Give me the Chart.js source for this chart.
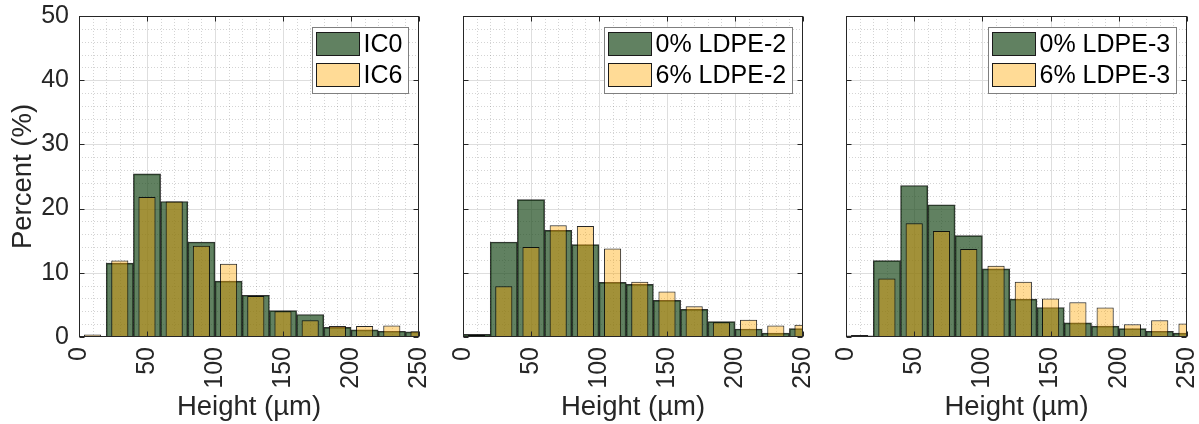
<!DOCTYPE html>
<html>
<head>
<meta charset="utf-8">
<script src="https://cdn.jsdelivr.net/npm/chart.js"></script>
<style>
  body { margin: 0; padding: 0; background: #fff; }
  #wrap { position: relative; width: 1199px; height: 424px; overflow: hidden; }
  canvas { position: absolute; top: 0; }
</style>
</head>
<body>
<div id="wrap">
  <canvas id="c1" width="430" height="424" style="left:0px"></canvas>
  <canvas id="c2" width="374" height="424" style="left:440px"></canvas>
  <canvas id="c3" width="375" height="424" style="left:823px"></canvas>
</div>
<script>
// bin centres (20 um bins), x axis cut at 250
const binCenters = [10, 30, 50, 70, 90, 110, 130, 150, 170, 190, 210, 230, 250];

const ic0 = [0, 11.5, 25.4, 21.1, 14.8, 8.7, 6.5, 4.1, 3.5, 1.5, 1.1, 0.9, 0.8];
const ic6 = [0.4, 11.9, 21.8, 21.1, 14.2, 11.4, 6.4, 4.0, 2.6, 1.7, 1.7, 1.8, 0.9];

const ldpe2_0 = [0.4, 14.8, 21.4, 16.6, 14.4, 8.5, 8.2, 5.7, 4.3, 2.4, 1.25, 0.6, 1.3];
const ldpe2_6 = [0.3, 7.9, 14.0, 17.4, 17.3, 13.8, 8.6, 7.1, 4.8, 2.3, 2.7, 1.8, 1.9];

const ldpe3_0 = [0.2, 11.9, 23.6, 20.6, 15.8, 10.6, 5.9, 4.6, 2.2, 1.7, 1.3, 0.9, 0.6];
const ldpe3_6 = [0.3, 9.1, 17.7, 16.5, 13.7, 11.1, 8.6, 6.0, 5.4, 4.6, 2.0, 2.6, 2.1];

const xTicks = [0, 50, 100, 150, 200, 250];
const yTicks = [0, 10, 20, 30, 40, 50];

const FONT = '"Liberation Sans", Arial, Helvetica, sans-serif';
const AXIS = '#262626';
const GREEN = 'rgba(30,75,30,0.7)';
const YELLOW = 'rgba(255,167,0,0.41)';

// grid, box, inner ticks and legend (MATLAB look)
const frame = {
    id: 'frame',
    beforeDatasetsDraw(chart) {
        const { ctx, chartArea: a, scales: { x, y } } = chart;
        const vline = px => { const p = Math.round(px) + 0.5; ctx.beginPath(); ctx.moveTo(p, a.top); ctx.lineTo(p, a.bottom); ctx.stroke(); };
        const hline = py => { const p = Math.round(py) + 0.5; ctx.beginPath(); ctx.moveTo(a.left, p); ctx.lineTo(a.right, p); ctx.stroke(); };
        ctx.save();
        ctx.lineWidth = 1;
        ctx.strokeStyle = 'rgba(38,38,38,0.2)';
        ctx.setLineDash([1, 2]);
        for (let v = 10; v < 250; v += 10) if (v % 50) vline(x.getPixelForValue(v));
        for (let v = 2; v < 50; v += 2) if (v % 10) hline(y.getPixelForValue(v));
        ctx.setLineDash([]);
        ctx.strokeStyle = '#dedede';
        xTicks.slice(1, -1).forEach(v => vline(x.getPixelForValue(v)));
        yTicks.slice(1, -1).forEach(v => hline(y.getPixelForValue(v)));
        ctx.restore();
    },
    afterDatasetsDraw(chart) {
        const { ctx, chartArea: a, scales: { x, y } } = chart;
        ctx.save();
        ctx.lineWidth = 1;
        ctx.strokeStyle = AXIS;
        const L = Math.round(a.left) + 0.5, R = Math.round(a.right) - 0.5;
        const T = Math.round(a.top) + 0.5, B = Math.round(a.bottom) - 0.5;
        ctx.strokeRect(L, T, R - L, B - T);
        ctx.beginPath();
        xTicks.forEach(v => {
            const p = Math.round(x.getPixelForValue(v)) + 0.5;
            ctx.moveTo(p, B); ctx.lineTo(p, B - 5);
            ctx.moveTo(p, T); ctx.lineTo(p, T + 5);
        });
        yTicks.forEach(v => {
            const p = Math.round(y.getPixelForValue(v)) + 0.5;
            ctx.moveTo(L, p); ctx.lineTo(L + 5, p);
            ctx.moveTo(R, p); ctx.lineTo(R - 5, p);
        });
        ctx.stroke();

        // legend box inside top right
        const ds = chart.data.datasets;
        ctx.font = '25px ' + FONT;
        const tw = Math.max(...ds.map(d => ctx.measureText(d.label).width));
        const w = Math.round(4 + 43 + 4 + tw + 6), h = 66;
        const bx = Math.round(a.right - 11 - w) + 0.5, by = Math.round(a.top + 11) + 0.5;
        ctx.fillStyle = '#fff';
        ctx.fillRect(bx, by, w, h);
        ctx.strokeStyle = '#7f7f7f';
        ctx.strokeRect(bx, by, w, h);
        ds.forEach((d, i) => {
            const py = by + 5 + i * 31;
            ctx.fillStyle = d.backgroundColor;
            ctx.fillRect(bx + 4, py, 43, 23);
            ctx.strokeStyle = '#1a1a1a';
            ctx.strokeRect(bx + 4, py, 43, 23);
            ctx.fillStyle = '#000';
            ctx.textBaseline = 'middle';
            ctx.textAlign = 'left';
            ctx.fillText(d.label, bx + 51, py + 13);
        });
        ctx.restore();
    }
};

function makePanel(id, labels, green, yellow, showY, yw) {
    const pts = vals => binCenters.map((c, i) => ({ x: c, y: vals[i] }));
    new Chart(document.getElementById(id), {
        type: 'bar',
        data: {
            datasets: [
                { label: labels[0], data: pts(green), backgroundColor: GREEN, borderColor: 'rgba(0,0,0,0.8)', borderWidth: 1,
                  barPercentage: 1, categoryPercentage: 1, grouped: false, order: 2, clip: 0 },
                { label: labels[1], data: pts(yellow), backgroundColor: YELLOW, borderColor: 'rgba(0,0,0,0.85)', borderWidth: 1,
                  barPercentage: 0.63, categoryPercentage: 1, grouped: false, order: 1, clip: 0 }
            ]
        },
        options: {
            responsive: false,
            animation: false,
            devicePixelRatio: 1,
            layout: { padding: { top: 16, right: 11, left: 0, bottom: 0 } },
            plugins: { legend: { display: false }, tooltip: { enabled: false } },
            scales: {
                x: {
                    type: 'linear', min: 0, max: 250, offset: false,
                    grid: { display: false, drawTicks: false, offset: false },
                    border: { display: false },
                    ticks: { stepSize: 50, autoSkip: false, minRotation: 90, maxRotation: 90, padding: 10,
                             color: AXIS, font: { family: FONT, size: 25 } },
                    title: { display: true, text: 'Height (µm)', color: AXIS, font: { family: FONT, size: 27.5 },
                             padding: { top: 0, bottom: 0 } },
                    afterFit(s) { s.height = 87; s.paddingLeft = 0; s.paddingRight = 0; }
                },
                y: {
                    min: 0, max: 50,
                    grid: { display: false, drawTicks: false },
                    border: { display: false },
                    ticks: { display: showY, stepSize: 10, padding: 10, color: AXIS, font: { family: FONT, size: 25 } },
                    title: { display: showY, text: 'Percent (%)', color: AXIS, font: { family: FONT, size: 27.5 },
                             padding: { top: 7, bottom: 0 } },
                    afterFit(s) { s.width = yw; s.paddingTop = 0; s.paddingBottom = 0; }
                }
            }
        },
        plugins: [frame]
    });
}

makePanel('c1', ['IC0', 'IC6'], ic0, ic6, true, 79);
makePanel('c2', ['0% LDPE-2', '6% LDPE-2'], ldpe2_0, ldpe2_6, false, 23);
makePanel('c3', ['0% LDPE-3', '6% LDPE-3'], ldpe3_0, ldpe3_6, false, 23);
</script>
</body>
</html>
